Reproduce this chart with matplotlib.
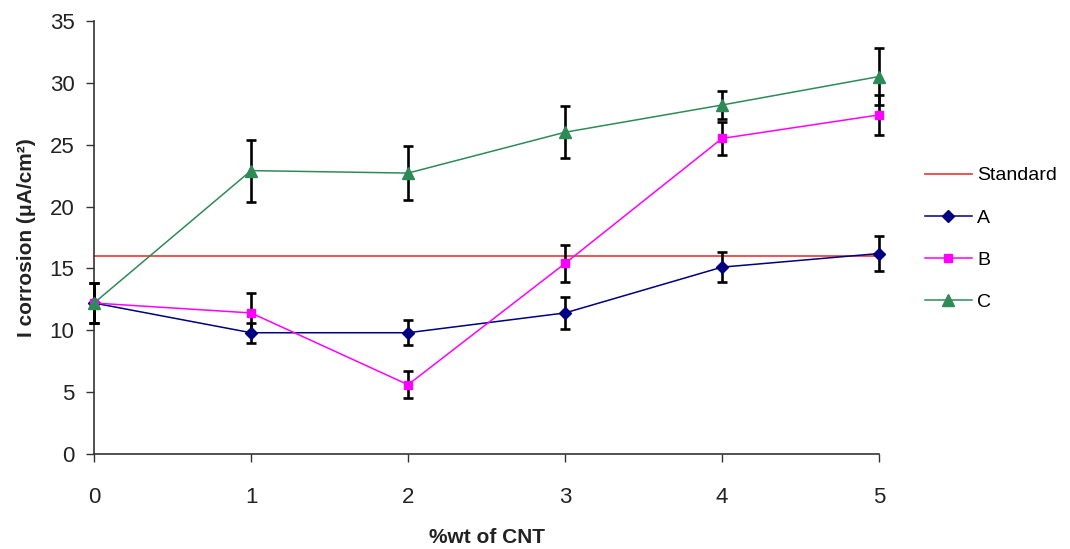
# I corrosion vs CNT content, with error bars
import numpy as np
import matplotlib.pyplot as plt

plt.rcParams['font.family'] = ['Liberation Sans', 'DejaVu Sans']

# data
cnt_wt = [0, 1, 2, 3, 4, 5]
standard = 16.0
a_vals = [12.2, 9.8, 9.8, 11.4, 15.1, 16.2]
a_err = [1.6, 0.8, 1.0, 1.3, 1.2, 1.4]
b_vals = [12.2, 11.4, 5.6, 15.4, 25.5, 27.4]
b_err = [1.6, 1.6, 1.1, 1.5, 1.3, 1.6]
c_vals = [12.2, 22.9, 22.7, 26.0, 28.2, 30.5]
c_err = [1.6, 2.5, 2.2, 2.1, 1.1, 2.3]

fig = plt.figure(figsize=(10.7, 5.49), dpi=100)
ax = fig.add_axes([0.0879, 0.173, 0.7336, 0.789])

ax.plot([cnt_wt[0], cnt_wt[-1]], [standard, standard], color='#f04444', lw=1.3,
        label='Standard', zorder=2)

series = [
    ('A', a_vals, a_err, '#000080', 'D', 6.5),
    ('B', b_vals, b_err, '#ff00ff', 's', 5.5),
    ('C', c_vals, c_err, '#2e8b57', '^', 8),
]
for name, vals, err, col, mk, ms in series:
    ax.errorbar(cnt_wt, vals, yerr=err, fmt='none', ecolor='black',
                elinewidth=1.9, capsize=3.8, capthick=1.9, zorder=3)
    ax.plot(cnt_wt, vals, color=col, marker=mk, ms=ms, lw=1.1,
            label=name, zorder=4)

ax.set_xlim(0, 5)
ax.set_ylim(0, 35)
ax.set_xticks(cnt_wt)
ax.set_yticks(np.arange(0, 36, 5))
ax.spines['top'].set_visible(False)
ax.spines['right'].set_visible(False)
for s in ['left', 'bottom']:
    ax.spines[s].set_color('#333333')
    ax.spines[s].set_linewidth(1.2)
ax.tick_params(axis='both', direction='out', length=6, width=1, colors='#333333',
               labelsize=16, labelcolor='#222222')
ax.tick_params(axis='y', pad=8)
ax.tick_params(axis='x', pad=18)
for art in ax.lines + ax.collections:
    art.set_clip_on(False)

ax.set_ylabel('I corrosion (μA/cm²)', fontsize=15, fontweight='bold',
              color='#222222', labelpad=10)
ax.set_xlabel('%wt of CNT', fontsize=15, fontweight='bold', color='#222222',
              labelpad=14)

leg = fig.legend(loc='upper left', bbox_to_anchor=(0.848, 0.728), frameon=False,
                 fontsize=14, handlelength=2.4, handletextpad=0.3,
                 labelspacing=1.26)

fig.savefig('out.png', dpi=100)
